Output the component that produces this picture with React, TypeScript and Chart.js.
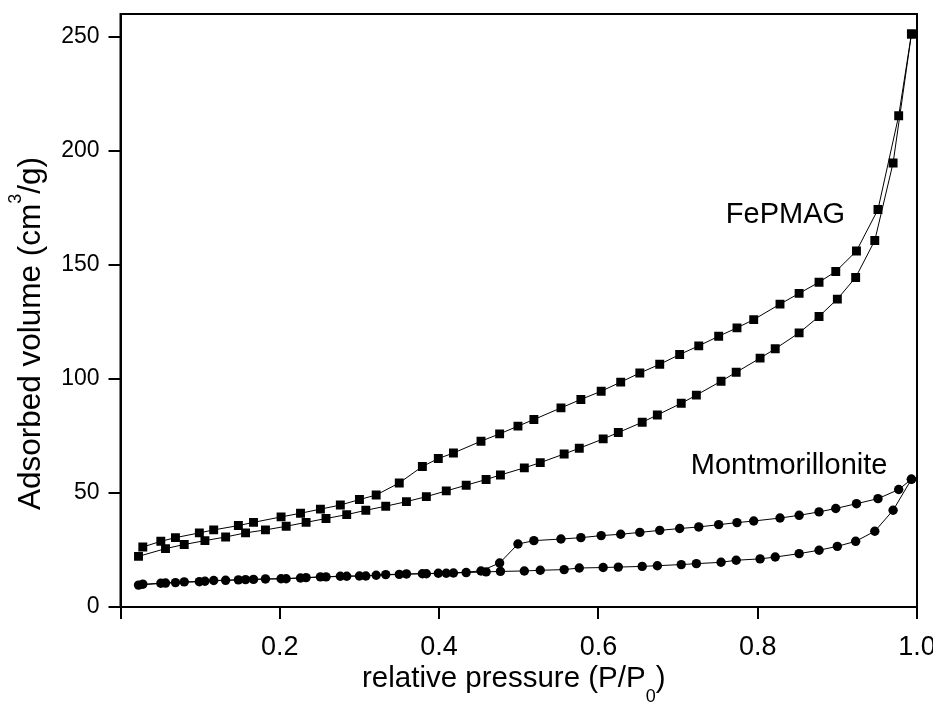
import React, { useEffect, useRef } from "react";
import { Chart, registerables } from "chart.js";

Chart.register(...registerables);

const FONT = '"Liberation Sans", Arial, sans-serif';

// relative pressure (P/P0) — adsorption branch (increasing)
const adsP = [
  0.0226, 0.0565, 0.080, 0.106, 0.132, 0.157, 0.182, 0.208, 0.233, 0.258,
  0.284, 0.308, 0.333, 0.359, 0.384, 0.409, 0.434, 0.459, 0.477, 0.507,
  0.527, 0.557, 0.576, 0.606, 0.625, 0.655, 0.674, 0.704, 0.723, 0.754,
  0.773, 0.803, 0.822, 0.852, 0.877, 0.900, 0.923, 0.947, 0.970, 0.993,
];
// relative pressure — desorption branch (decreasing)
const desP = [
  0.993, 0.977, 0.951, 0.924, 0.898, 0.877, 0.852, 0.828, 0.795, 0.774,
  0.751, 0.726, 0.702, 0.677, 0.652, 0.628, 0.6035, 0.578, 0.553, 0.519,
  0.499, 0.476, 0.4526, 0.418, 0.399, 0.379, 0.350, 0.321, 0.300, 0.276,
  0.251, 0.226, 0.2016, 0.167, 0.148, 0.117, 0.099, 0.069, 0.0506, 0.028,
];

const fepmagAds = [
  22.2, 25.6, 27.4, 29.1, 30.7, 32.5, 33.8, 35.4, 37.1, 38.8,
  40.5, 42.4, 44.2, 46.2, 48.4, 50.9, 53.4, 55.9, 57.9, 61.0,
  63.3, 67.1, 69.6, 73.7, 76.5, 81.0, 84.2, 89.3, 92.9, 99.0,
  102.9, 109.1, 113.2, 120.2, 127.4, 135.0, 144.5, 160.7, 194.7, 251.2,
];
const fepmagDes = [
  251.2, 215.4, 174.3, 156.1, 147.1, 142.4, 137.5, 132.8, 126.0, 122.4,
  118.7, 114.5, 110.7, 106.4, 102.6, 98.6, 94.6, 91.0, 87.3, 82.2,
  79.3, 75.9, 72.7, 67.5, 65.1, 61.6, 54.4, 49.1, 47.1, 44.7,
  42.9, 41.1, 39.5, 37.1, 35.7, 33.8, 32.5, 30.4, 28.8, 26.3,
];
const montAds = [
  9.6, 10.5, 11.0, 11.3, 11.7, 12.0, 12.3, 12.4, 12.9, 13.2,
  13.5, 13.6, 14.2, 14.5, 14.6, 14.8, 15.1, 15.4, 15.6, 15.8,
  16.1, 16.4, 17.1, 17.3, 17.5, 17.8, 18.1, 18.6, 19.0, 19.6,
  20.5, 21.1, 21.9, 23.4, 24.9, 26.6, 28.8, 33.2, 42.4, 56.0,
];
const montDes = [
  56.0, 51.5, 47.5, 45.3, 43.2, 41.7, 40.2, 39.0, 37.7, 37.0,
  36.1, 35.1, 34.4, 33.6, 32.7, 31.9, 31.3, 30.4, 29.8, 29.1,
  27.6, 19.3, 15.8, 14.9, 14.8, 14.6, 14.3, 13.9, 13.6, 13.5,
  13.2, 12.7, 12.4, 12.1, 11.9, 11.6, 11.1, 10.7, 10.4, 10.0,
];

const xTicks = [0, 0.2, 0.4, 0.6, 0.8, 1.0];
const yTicks = [0, 50, 100, 150, 200, 250];

const xTitle = [
  { t: "relative pressure (P/P", s: 0 },
  { t: "0", s: 1 },
  { t: ")", s: 0 },
];
const yTitle = [
  { t: "Adsorbed volume (cm", s: 0 },
  { t: "3", s: -1 },
  { t: "/g)", s: 0 },
];

const labelFe = { text: "FePMAG", x: 0.760, y: 168.4 };
const labelMont = { text: "Montmorillonite", x: 0.716, y: 58.5 };

function pts(xs: number[], ys: number[]) {
  return xs.map((x, i) => ({ x, y: ys[i] }));
}

function drawRich(ctx: CanvasRenderingContext2D, segs: { t: string; s: number }[], cx: number, by: number, size: number, small: number) {
  const widths = segs.map((sg) => {
    ctx.font = `${sg.s ? small : size}px ${FONT}`;
    return ctx.measureText(sg.t).width;
  });
  const total = widths.reduce((a, b) => a + b, 0);
  let x = cx - total / 2;
  segs.forEach((sg, i) => {
    ctx.font = `${sg.s ? small : size}px ${FONT}`;
    const dy = sg.s === 1 ? size * 0.52 : sg.s === -1 ? -size * 0.6 : 0;
    ctx.fillText(sg.t, x, by + dy);
    x += widths[i];
  });
}

const decor = {
  id: "decor",
  afterDraw(chart: any) {
    const ctx = chart.ctx as CanvasRenderingContext2D;
    const ca = chart.chartArea;
    const xs = chart.scales.x;
    const ys = chart.scales.y;
    ctx.save();
    ctx.strokeStyle = "#000";
    ctx.lineWidth = 2;
    ctx.strokeRect(ca.left, ca.top, ca.right - ca.left, ca.bottom - ca.top);
    ctx.fillStyle = "#000";
    ctx.textAlign = "left";
    ctx.textBaseline = "alphabetic";
    ctx.font = `29px ${FONT}`;
    [labelFe, labelMont].forEach((l) => {
      ctx.fillText(l.text, xs.getPixelForValue(l.x), ys.getPixelForValue(l.y));
    });
    drawRich(ctx, xTitle, (ca.left + ca.right) / 2 - 5, ca.bottom + 80, 29.5, 18);
    ctx.save();
    ctx.translate(ca.left - 81, (ca.top + ca.bottom) / 2 + 23);
    ctx.rotate(-Math.PI / 2);
    drawRich(ctx, yTitle, 0, 0, 31.5, 18);
    ctx.restore();
    ctx.restore();
  },
};

function noPad(s: any) {
  s.paddingTop = 0;
  s.paddingBottom = 0;
  s.paddingLeft = 0;
  s.paddingRight = 0;
}

export default function App() {
  const ref = useRef<HTMLCanvasElement>(null);
  useEffect(() => {
    document.body.style.margin = "0";
    const base = {
      borderColor: "#000",
      borderWidth: 1,
      pointBackgroundColor: "#000",
      pointBorderColor: "#000",
      pointBorderWidth: 0,
      showLine: true,
      fill: false,
      tension: 0,
    };
    const chart = new Chart(ref.current as HTMLCanvasElement, {
      type: "line",
      data: {
        datasets: [
          { ...base, label: "FePMAG adsorption", data: pts(adsP, fepmagAds), pointStyle: "rect", pointRadius: 6.3 },
          { ...base, label: "FePMAG desorption", data: pts(desP, fepmagDes), pointStyle: "rect", pointRadius: 6.3 },
          { ...base, label: "Montmorillonite adsorption", data: pts(adsP, montAds), pointStyle: "circle", pointRadius: 4.7 },
          { ...base, label: "Montmorillonite desorption", data: pts(desP, montDes), pointStyle: "circle", pointRadius: 4.7 },
        ] as any,
      },
      options: {
        animation: false,
        responsive: false,
        maintainAspectRatio: false,
        layout: { padding: { top: 14, right: 16, left: 0, bottom: 0 } },
        plugins: { legend: { display: false }, tooltip: { enabled: false } },
        scales: {
          x: {
            type: "linear",
            min: 0,
            max: 1.0,
            afterBuildTicks: (s: any) => { s.ticks = xTicks.map((v) => ({ value: v })); },
            afterFit: (s: any) => { s.height = 95; noPad(s); },
            grid: { drawOnChartArea: false, drawTicks: true, tickLength: 12, color: "#000", lineWidth: 2 },
            border: { display: true, color: "#000", width: 2 },
            ticks: {
              color: "#000",
              font: { family: FONT, size: 27 },
              padding: 12,
              maxRotation: 0,
              callback: (v: any) => (v === 0 ? "" : Number(v).toFixed(1)),
            },
          },
          y: {
            type: "linear",
            min: 0,
            max: 260,
            afterBuildTicks: (s: any) => { s.ticks = yTicks.map((v) => ({ value: v })); },
            afterFit: (s: any) => { s.width = 120.5; noPad(s); },
            grid: { drawOnChartArea: false, drawTicks: true, tickLength: 12, color: "#000", lineWidth: 2 },
            border: { display: true, color: "#000", width: 2 },
            ticks: {
              color: "#000",
              font: { family: FONT, size: 23 },
              padding: 9,
              callback: (v: any) => String(v),
            },
          },
        },
      },
      plugins: [decor],
    });
    return () => chart.destroy();
  }, []);
  return <canvas ref={ref} width={933} height={702} style={{ display: "block" }} />;
}
